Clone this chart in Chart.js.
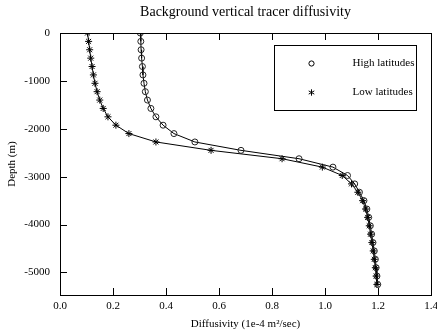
<!DOCTYPE html>
<html>
<head>
<meta charset="utf-8">
<script src="https://cdn.jsdelivr.net/npm/chart.js@4/dist/chart.umd.min.js"></script>
<style>
  html, body { margin: 0; padding: 0; background: #fff; }
  #wrap { width: 437px; height: 331px; position: relative; }
</style>
</head>
<body>
<div id="wrap"><canvas id="c" width="437" height="331"></canvas></div>
<script>
// ---- data ----
const titleText = "Background vertical tracer diffusivity";
const xTitle = "Diffusivity (1e-4 m\u00B2/sec)";
const yTitle = "Depth (m)";
const seriesNames = ["High latitudes", "Low latitudes"];

const depths = [0, -175, -350, -525, -700, -875, -1050, -1225, -1400, -1575,
  -1750, -1925, -2100, -2275, -2450, -2625, -2800, -2975, -3150, -3325,
  -3500, -3675, -3850, -4025, -4200, -4375, -4550, -4725, -4900, -5075, -5250];

const highLat = [0.303, 0.305, 0.306, 0.308, 0.311, 0.313, 0.317, 0.322, 0.330, 0.343,
  0.362, 0.389, 0.430, 0.509, 0.683, 0.902, 1.030, 1.085, 1.112, 1.130,
  1.147, 1.158, 1.165, 1.171, 1.176, 1.181, 1.186, 1.190, 1.193, 1.196, 1.199];

const lowLat = [0.104, 0.108, 0.112, 0.116, 0.121, 0.126, 0.132, 0.140, 0.150, 0.163,
  0.181, 0.211, 0.260, 0.362, 0.570, 0.838, 0.990, 1.065, 1.100, 1.124,
  1.142, 1.153, 1.161, 1.167, 1.172, 1.177, 1.182, 1.186, 1.190, 1.193, 1.196];

const xTicks = [0, 0.2, 0.4, 0.6, 0.8, 1.0, 1.2, 1.4];
const yTicks = [0, -1000, -2000, -3000, -4000, -5000];
const xRange = [0, 1.4];
const yRange = [-5470, 0];

// ---- chart ----
const FONT = "'Liberation Serif', 'Times New Roman', serif";

const framePlugin = {
  id: 'frame',
  afterDatasetsDraw(chart) {
    const ctx = chart.ctx, a = chart.chartArea;
    const xs = chart.scales.x, ys = chart.scales.y;
    ctx.save();
    ctx.strokeStyle = '#000';
    ctx.lineWidth = 1;
    ctx.strokeRect(Math.round(a.left) + 0.5, Math.round(a.top) + 0.5,
      Math.round(a.right - a.left), Math.round(a.bottom - a.top));
    ctx.beginPath();
    xTicks.forEach(v => {
      const px = Math.round(xs.getPixelForValue(v)) + 0.5;
      ctx.moveTo(px, a.bottom); ctx.lineTo(px, a.bottom - 7);
      ctx.moveTo(px, a.top); ctx.lineTo(px, a.top + 7);
    });
    yTicks.forEach(v => {
      const py = Math.round(ys.getPixelForValue(v)) + 0.5;
      ctx.moveTo(a.left, py); ctx.lineTo(a.left + 7, py);
    });
    ctx.stroke();

    // legend box
    const bx = Math.round(a.right - 157) + 0.5, by = Math.round(a.top + 12) + 0.5;
    const bw = 142, bh = 65;
    ctx.fillStyle = '#fff';
    ctx.fillRect(bx, by, bw, bh);
    ctx.strokeRect(bx, by, bw, bh);
    const sx = bx + 37, tx = bx + 78;
    const y1 = by + 18, y2 = by + 47;
    ctx.beginPath();
    ctx.arc(sx, y1, 2.6, 0, Math.PI * 2);
    ctx.stroke();
    const r = 3.2;
    ctx.beginPath();
    ctx.moveTo(sx, y2 - r); ctx.lineTo(sx, y2 + r);
    ctx.moveTo(sx - r * 0.87, y2 - r * 0.5); ctx.lineTo(sx + r * 0.87, y2 + r * 0.5);
    ctx.moveTo(sx - r * 0.87, y2 + r * 0.5); ctx.lineTo(sx + r * 0.87, y2 - r * 0.5);
    ctx.stroke();
    ctx.fillStyle = '#000';
    ctx.font = '11px ' + FONT;
    ctx.textBaseline = 'middle';
    ctx.textAlign = 'left';
    ctx.fillText(seriesNames[0], tx, y1);
    ctx.fillText(seriesNames[1], tx, y2);
    ctx.restore();
  }
};

const toPts = arr => depths.map((d, i) => ({ x: arr[i], y: d }));

new Chart(document.getElementById('c'), {
  type: 'scatter',
  data: {
    datasets: [
      {
        label: seriesNames[0],
        data: toPts(highLat),
        showLine: true,
        borderColor: '#000',
        backgroundColor: 'rgba(0,0,0,0)',
        borderWidth: 1,
        pointStyle: 'circle',
        pointRadius: 3,
        pointBorderWidth: 1,
        pointBorderColor: '#222',
        pointBackgroundColor: 'rgba(0,0,0,0)'
      },
      {
        label: seriesNames[1],
        data: toPts(lowLat),
        showLine: true,
        borderColor: '#000',
        backgroundColor: '#000',
        borderWidth: 1,
        pointStyle: 'star',
        pointRadius: 3.5,
        pointBorderWidth: 1,
        pointBorderColor: '#000'
      }
    ]
  },
  options: {
    responsive: false,
    animation: false,
    layout: { padding: { left: 0, right: 0, top: 0, bottom: 0 } },
    plugins: {
      legend: { display: false },
      tooltip: { enabled: false },
      title: {
        display: true,
        text: titleText,
        fullSize: false,
        color: '#000',
        font: { family: FONT, size: 14, weight: 'normal', lineHeight: 1.2 },
        padding: { top: 4, bottom: 12.2 }
      }
    },
    scales: {
      x: {
        type: 'linear',
        position: 'bottom',
        min: xRange[0], max: xRange[1],
        grid: { display: false, drawTicks: false },
        border: { display: false },
        afterBuildTicks: s => { s.ticks = xTicks.map(v => ({ value: v })); },
        afterFit: s => { s.height = 36; s.paddingRight = 6; },
        ticks: {
          color: '#000',
          padding: 5,
          maxRotation: 0,
          font: { family: FONT, size: 11 },
          callback: v => Number(v).toFixed(1)
        },
        title: {
          display: true,
          text: xTitle,
          color: '#000',
          font: { family: FONT, size: 11 },
          padding: { top: 1, bottom: 0 }
        }
      },
      y: {
        type: 'linear',
        position: 'left',
        min: yRange[0], max: yRange[1],
        grid: { display: false, drawTicks: false },
        border: { display: false },
        afterBuildTicks: s => { s.ticks = yTicks.map(v => ({ value: v })); },
        afterFit: s => { s.width = 60; },
        ticks: {
          color: '#000',
          padding: 10,
          font: { family: FONT, size: 11 },
          callback: v => String(v)
        },
        title: {
          display: true,
          text: yTitle,
          color: '#000',
          font: { family: FONT, size: 11 },
          padding: { top: 6, bottom: 0 }
        }
      }
    }
  },
  plugins: [framePlugin]
});
</script>
</body>
</html>
